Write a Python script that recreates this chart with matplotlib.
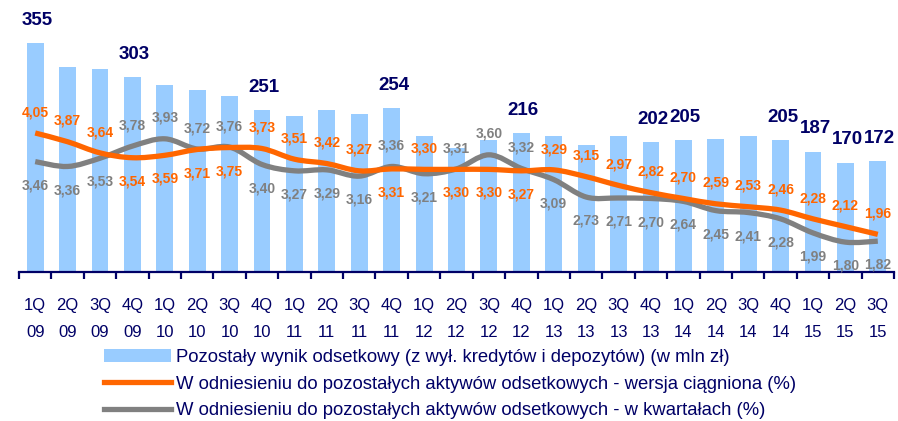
import matplotlib
matplotlib.use("Agg")
import matplotlib.pyplot as plt
from matplotlib.path import Path
from matplotlib.patches import PathPatch, Patch
from matplotlib.lines import Line2D
import numpy as np

quarters = ["1Q\n09", "2Q\n09", "3Q\n09", "4Q\n09",
            "1Q\n10", "2Q\n10", "3Q\n10", "4Q\n10",
            "1Q\n11", "2Q\n11", "3Q\n11", "4Q\n11",
            "1Q\n12", "2Q\n12", "3Q\n12", "4Q\n12",
            "1Q\n13", "2Q\n13", "3Q\n13", "4Q\n13",
            "1Q\n14", "2Q\n14", "3Q\n14", "4Q\n14",
            "1Q\n15", "2Q\n15", "3Q\n15"]

# Pozostały wynik odsetkowy (mln zł)
wynik = [355, 319, 315, 303, 290, 282, 274, 251, 242, 252, 246, 254,
         211, 192, 205, 216, 211, 198, 211, 202, 205, 206, 211, 205,
         187, 170, 172]
wynik_labeled = [0, 3, 7, 11, 15, 19, 20, 23, 24, 25, 26]

# marża - wersja ciągniona (%)
ciagniona = [4.05, 3.87, 3.64, 3.54, 3.59, 3.71, 3.75, 3.73, 3.51, 3.42,
             3.27, 3.31, 3.30, 3.30, 3.30, 3.27, 3.29, 3.15, 2.97, 2.82,
             2.70, 2.59, 2.53, 2.46, 2.28, 2.12, 1.96]

# marża - w kwartałach (%)
kwartalna = [3.46, 3.36, 3.53, 3.78, 3.93, 3.72, 3.76, 3.40, 3.27, 3.29,
             3.16, 3.36, 3.21, 3.31, 3.60, 3.32, 3.09, 2.73, 2.71, 2.70,
             2.64, 2.45, 2.41, 2.28, 1.99, 1.80, 1.82]

# which side of the line each value label sits on (a = above, b = below)
side_c = "aaabbbbaaaababbbaaaaaaaaaaa"
side_k = "bbbaaaabbbbabaaabbbbbbbbbbb"

NAVY = "#000066"
BLUE = "#99CCFF"
ORANGE = "#FF6600"
GREY = "#808080"

plt.rcParams["font.family"] = ["Liberation Sans", "DejaVu Sans"]

fig = plt.figure(figsize=(8.98, 4.21), dpi=100)
ax = fig.add_axes([19 / 898, 1 - 272 / 421, 875 / 898, 262 / 421])
x = np.arange(len(wynik))

ax.bar(x, wynik, width=0.52, color=BLUE, zorder=1)
ax.set_xlim(-0.5, len(wynik) - 0.5)
ax.set_ylim(0, 407)
for i in wynik_labeled:
    ax.annotate(str(wynik[i]), (x[i], wynik[i]), xytext=(1.5, 16.5),
                textcoords="offset points", ha="center", va="center",
                fontsize=13.5, fontweight="bold", color=NAVY)

for s in ["top", "left", "right"]:
    ax.spines[s].set_visible(False)
ax.spines["bottom"].set_color(NAVY)
ax.spines["bottom"].set_linewidth(1.6)
ax.set_yticks([])
ax.set_xticks(x)
ax.set_xticklabels(quarters, linespacing=2.0)
ax.tick_params(axis="x", which="major", length=0, pad=19, labelsize=12,
               labelcolor=NAVY)
ax.set_xticks(np.arange(-0.5, len(wynik)), minor=True)
ax.tick_params(axis="x", which="minor", length=5, width=1.6, color=NAVY)

ax2 = ax.twinx()
ax2.set_ylim(1.184, 6.586)
ax2.axis("off")


def smooth(xs, ys):
    # cubic bezier through every point, tangents from neighbours
    verts = [(xs[0], ys[0])]
    codes = [Path.MOVETO]
    n = len(xs)
    for i in range(n - 1):
        a = max(i - 1, 0)
        d = min(i + 2, n - 1)
        c1 = (xs[i] + (xs[i + 1] - xs[a]) / 6, ys[i] + (ys[i + 1] - ys[a]) / 6)
        c2 = (xs[i + 1] - (xs[d] - xs[i]) / 6, ys[i + 1] - (ys[d] - ys[i]) / 6)
        verts += [c1, c2, (xs[i + 1], ys[i + 1])]
        codes += [Path.CURVE4] * 3
    return Path(verts, codes)


for vals, col in [(kwartalna, GREY), (ciagniona, ORANGE)]:
    ax2.add_patch(PathPatch(smooth(x, vals), fill=False, edgecolor=col,
                            lw=3.8, capstyle="butt", joinstyle="round"))

for vals, sides, col in [(ciagniona, side_c, ORANGE), (kwartalna, side_k, GREY)]:
    for i, v in enumerate(vals):
        dy = 15 if sides[i] == "a" else -17
        ax2.annotate(f"{v:.2f}".replace(".", ","), (x[i], v), xytext=(0, dy),
                     textcoords="offset points", ha="center", va="center",
                     fontsize=10, fontweight="bold", color=col)

handles = [Patch(facecolor=BLUE),
           Line2D([], [], color=ORANGE, lw=3.8),
           Line2D([], [], color=GREY, lw=3.8)]
labels = ["Pozostały wynik odsetkowy (z wył. kredytów i depozytów) (w mln zł)",
          "W odniesieniu do pozostałych aktywów odsetkowych - wersja ciągniona (%)",
          "W odniesieniu do pozostałych aktywów odsetkowych - w kwartałach (%)"]
fig.legend(handles, labels, loc="upper left", bbox_to_anchor=(104 / 898, 1 - 349 / 421),
           frameon=False, fontsize=13.3, labelcolor=NAVY, handlelength=3.6,
           handleheight=0.65, handletextpad=0.3, labelspacing=0.52,
           borderpad=0, borderaxespad=0)

fig.savefig("out.png", dpi=100)
